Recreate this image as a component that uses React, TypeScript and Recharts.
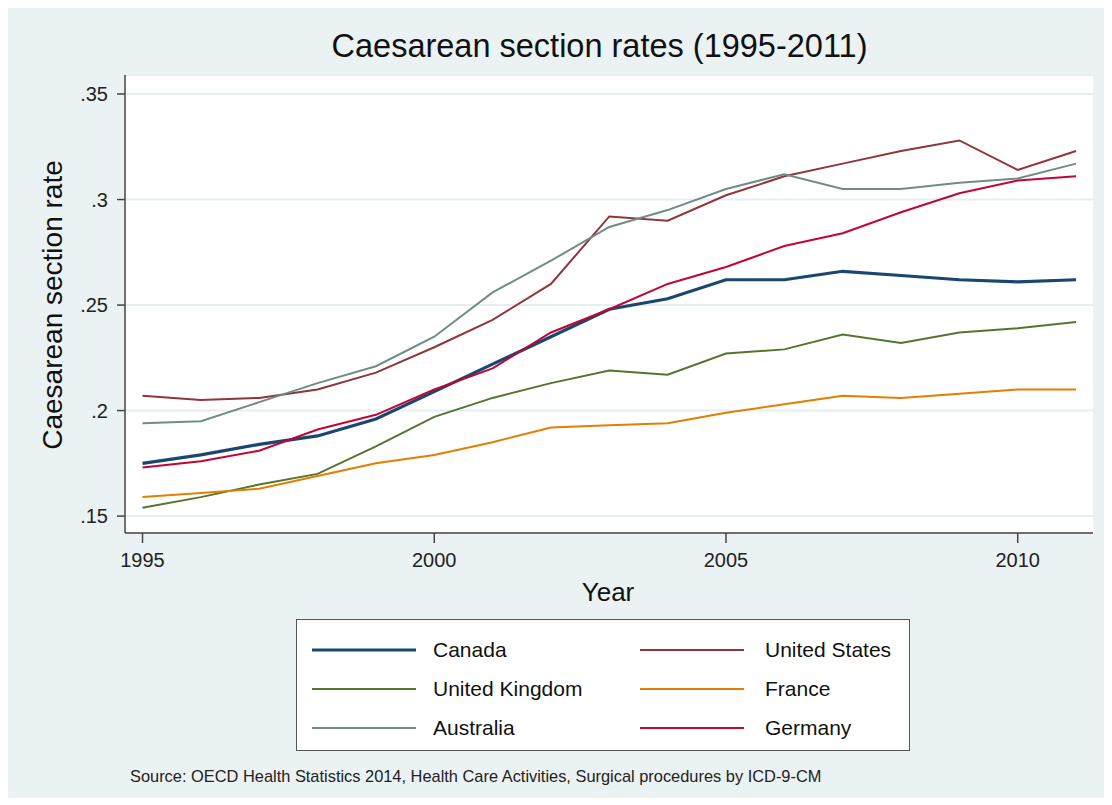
import React from "react";
import { LineChart, Line, XAxis, YAxis, CartesianGrid } from "recharts";

const years = [1995, 1996, 1997, 1998, 1999, 2000, 2001, 2002, 2003, 2004, 2005, 2006, 2007, 2008, 2009, 2010, 2011];
const canada = [0.175, 0.179, 0.184, 0.188, 0.196, 0.209, 0.222, 0.235, 0.248, 0.253, 0.262, 0.262, 0.266, 0.264, 0.262, 0.261, 0.262];
const unitedStates = [0.207, 0.205, 0.206, 0.21, 0.218, 0.23, 0.243, 0.26, 0.292, 0.29, 0.302, 0.311, 0.317, 0.323, 0.328, 0.314, 0.323];
const unitedKingdom = [0.154, 0.159, 0.165, 0.17, 0.183, 0.197, 0.206, 0.213, 0.219, 0.217, 0.227, 0.229, 0.236, 0.232, 0.237, 0.239, 0.242];
const france = [0.159, 0.161, 0.163, 0.169, 0.175, 0.179, 0.185, 0.192, 0.193, 0.194, 0.199, 0.203, 0.207, 0.206, 0.208, 0.21, 0.21];
const australia = [0.194, 0.195, 0.204, 0.213, 0.221, 0.235, 0.256, 0.271, 0.287, 0.295, 0.305, 0.312, 0.305, 0.305, 0.308, 0.31, 0.317];
const germany = [0.173, 0.176, 0.181, 0.191, 0.198, 0.21, 0.22, 0.237, 0.248, 0.26, 0.268, 0.278, 0.284, 0.294, 0.303, 0.309, 0.311];

const xTicks = [1995, 2000, 2005, 2010];
const yTicks = [0.15, 0.2, 0.25, 0.3, 0.35];

const series = [
  { key: "canada", name: "Canada", values: canada, color: "#1a476f", width: 3.2 },
  { key: "us", name: "United States", values: unitedStates, color: "#90353b", width: 2 },
  { key: "uk", name: "United Kingdom", values: unitedKingdom, color: "#55752f", width: 2 },
  { key: "france", name: "France", values: france, color: "#e37e00", width: 2 },
  { key: "australia", name: "Australia", values: australia, color: "#6e8e84", width: 2 },
  { key: "germany", name: "Germany", values: germany, color: "#c10534", width: 2 },
];

const data = years.map((year, i) => {
  const row: Record<string, number> = { year };
  series.forEach((s) => {
    row[s.key] = s.values[i];
  });
  return row;
});

const FONT = '"Liberation Sans", Arial, Helvetica, sans-serif';

const fmtY = (v: number) => {
  const s = String(Math.round(v * 100) / 100);
  return s.replace(/^0/, "");
};

function LegendBox() {
  return (
    <div
      style={{
        position: "absolute",
        left: 288,
        top: 611,
        width: 614,
        height: 132,
        boxSizing: "border-box",
        border: "1.5px solid #555",
        background: "#fff",
        fontFamily: FONT,
      }}
    >
      {series.map((s, i) => {
        const col = i % 2;
        const row = Math.floor(i / 2);
        const cy = 30 + row * 39;
        const lx = col === 0 ? 15 : 343;
        const tx = col === 0 ? 136 : 468;
        return (
          <React.Fragment key={s.key}>
            <svg width={104} height={10} style={{ position: "absolute", left: lx, top: cy - 5 }}>
              <line x1={0} y1={5} x2={104} y2={5} stroke={s.color} strokeWidth={s.width} />
            </svg>
            <div
              style={{
                position: "absolute",
                left: tx,
                top: cy - 13,
                height: 26,
                lineHeight: "26px",
                fontSize: 21,
                color: "#111",
                whiteSpace: "nowrap",
              }}
            >
              {s.name}
            </div>
          </React.Fragment>
        );
      })}
    </div>
  );
}

export default function App() {
  return (
    <div
      style={{
        position: "relative",
        width: 1097,
        height: 790,
        background: "#eaf2f3",
        fontFamily: FONT,
      }}
    >
      <div
        style={{
          position: "absolute",
          left: 0,
          width: 1097,
          top: 20,
          height: 36,
          lineHeight: "36px",
          textAlign: "center",
          fontSize: 32.5,
          color: "#111",
          paddingLeft: 86,
          boxSizing: "border-box",
        }}
      >
        Caesarean section rates (1995-2011)
      </div>
      <LineChart
        width={1097}
        height={790}
        data={data}
        margin={{ top: 67, right: 12, left: 0, bottom: 205 }}
        style={{ position: "absolute", left: 0, top: 0 }}
      >
        <CartesianGrid horizontal vertical={false} stroke="#e6eef1" strokeWidth={2} fill="#ffffff" />
        <XAxis
          dataKey="year"
          type="number"
          domain={[1994.7, 2011.29]}
          ticks={xTicks}
          allowDataOverflow
          height={60}
          tickSize={10}
          tickMargin={10}
          stroke="#444"
          strokeWidth={1.5}
          tick={{ fill: "#222", fontSize: 20, fontFamily: FONT }}
        />
        <YAxis
          type="number"
          domain={[0.142, 0.359]}
          ticks={yTicks}
          allowDataOverflow
          width={117}
          tickSize={8}
          tickMargin={9}
          tickFormatter={fmtY}
          stroke="#444"
          strokeWidth={1.5}
          tick={{ fill: "#222", fontSize: 20, fontFamily: FONT }}
        />
        {series.map((s) => (
          <Line
            key={s.key}
            type="linear"
            dataKey={s.key}
            name={s.name}
            stroke={s.color}
            strokeWidth={s.width}
            dot={false}
            activeDot={false}
            isAnimationActive={false}
          />
        ))}
      </LineChart>
      <LegendBox />
      <div
        style={{
          position: "absolute",
          left: 45 - 160,
          top: 297 - 17,
          width: 320,
          height: 34,
          lineHeight: "34px",
          textAlign: "center",
          fontSize: 28,
          color: "#111",
          transform: "rotate(-90deg)",
        }}
      >
        Caesarean section rate
      </div>
      <div
        style={{
          position: "absolute",
          left: 600 - 100,
          width: 200,
          top: 569,
          height: 30,
          lineHeight: "30px",
          textAlign: "center",
          fontSize: 26,
          color: "#111",
        }}
      >
        Year
      </div>
      <div
        style={{
          position: "absolute",
          left: 122,
          top: 758,
          height: 20,
          lineHeight: "20px",
          fontSize: 16.4,
          color: "#222",
          whiteSpace: "nowrap",
        }}
      >
        Source: OECD Health Statistics 2014, Health Care Activities, Surgical procedures by ICD-9-CM
      </div>
    </div>
  );
}
